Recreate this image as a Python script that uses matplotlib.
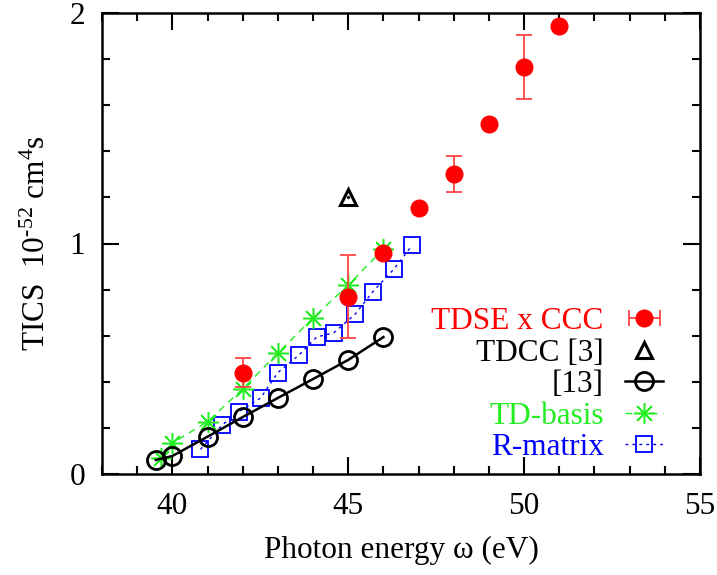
import matplotlib
matplotlib.use("Agg")
import matplotlib.pyplot as plt
import numpy as np
from matplotlib.ticker import MultipleLocator

plt.rcParams['font.family'] = ['Liberation Serif', 'DejaVu Serif']
plt.rcParams['mathtext.fontset'] = 'custom'
plt.rcParams['mathtext.rm'] = 'Liberation Serif'
plt.rcParams['mathtext.default'] = 'regular'
plt.rcParams['font.size'] = 22.5

# TDSE x CCC (filled red circles, some with error bars)
tdse_x = np.array([42, 45, 46, 47, 48, 49, 50, 51])
tdse_y = np.array([0.44, 0.77, 0.96, 1.155, 1.30, 1.52, 1.765, 1.945])
tdse_err = np.array([0.063, 0.18, 0.0, 0.0, 0.078, 0.0, 0.14, 0.0])

# TDCC [3]
tdcc_x = np.array([45])
tdcc_y = np.array([1.20])

# [13]
ref13_x = np.array([39.53, 40, 41, 42, 43, 44, 45, 46])
ref13_y = np.array([0.061, 0.078, 0.162, 0.247, 0.33, 0.412, 0.495, 0.594])

# TD-basis
tdb_x = np.array([39.69, 40, 41, 42, 43, 44, 45, 46])
tdb_y = np.array([0.071, 0.134, 0.227, 0.369, 0.525, 0.677, 0.82, 0.976])

# R-matrix
rm_x = np.array([40.8, 41.42, 41.89, 42.51, 43.0, 43.6, 44.1, 44.59, 45.2, 45.7, 46.3, 46.82])
rm_y = np.array([0.107, 0.213, 0.27, 0.33, 0.44, 0.516, 0.594, 0.613, 0.694, 0.791, 0.889, 0.993])

fig = plt.figure(figsize=(7.17, 5.75), dpi=100)
ax = fig.add_axes([102 / 717, 1 - 474 / 575, 598 / 717, 461 / 575])

red = '#ff0000'
green = '#22ee22'
blue = '#0000ff'

# R-matrix
ax.plot(rm_x, rm_y, color=blue, linestyle=(0, (2, 3)), lw=1.0, marker='s', ms=12,
        mfc='none', mec=blue, mew=1.3, zorder=2)
# TD-basis
ax.plot(tdb_x, tdb_y, color=green, linestyle=(0, (5, 4)), lw=1.0, marker=(8, 2, 0), ms=15,
        mew=1.1, mec=green, zorder=3)
# [13]
ax.plot(ref13_x, ref13_y, color='black', lw=1.8, marker='o', ms=13, mfc='none',
        mec='black', mew=2.0, zorder=3)
# TDCC [3]
ax.plot(tdcc_x, tdcc_y, linestyle='none', marker='^', ms=12, mfc='none', mec='black', mew=2.2, zorder=4)
ax.plot(tdcc_x, tdcc_y, linestyle='none', marker='.', ms=2.5, color='black', zorder=4)

# TDSE x CCC
has_err = tdse_err > 0
ax.errorbar(tdse_x[has_err], tdse_y[has_err], yerr=tdse_err[has_err], fmt='none',
            ecolor='#ff4444', elinewidth=1.3, capsize=6, capthick=1.3, zorder=4)
ax.plot(tdse_x, tdse_y, linestyle='none', marker='o', ms=12, color=red, zorder=5)

# legend proxies
h_tdse = ax.errorbar([np.nan], [np.nan], xerr=[1], fmt='o', ms=12, color=red,
                     ecolor='#ff4444', elinewidth=1.3, capsize=6, capthick=1.3)
h_tdcc, = ax.plot([], [], linestyle='none', marker='^', ms=12, mfc='none', mec='black', mew=2.2)
h_13, = ax.plot([], [], color='black', lw=1.8, marker='o', ms=13, mfc='none', mec='black', mew=2.0)
h_tdb, = ax.plot([], [], color=green, linestyle=(0, (5, 4)), lw=1.0, marker=(8, 2, 0), ms=15,
                 mew=1.1, mec=green)
h_rm, = ax.plot([], [], color=blue, linestyle=(0, (2, 3)), lw=1.0, marker='s', ms=12,
                mfc='none', mec=blue, mew=1.3)

labels = ['TDSE x CCC', 'TDCC [3]', '[13]', 'TD-basis', 'R-matrix']
label_colors = [red, 'black', 'black', green, blue]
leg = ax.legend([h_tdse, h_tdcc, h_13, h_tdb, h_rm], labels, loc='lower right',
                bbox_to_anchor=(0.938, 0.026), frameon=False, markerfirst=False,
                handlelength=1.2, handletextpad=0.7, labelspacing=0.08, borderpad=0,
                borderaxespad=0, fontsize=22.5)
for t, c in zip(leg.get_texts(), label_colors):
    t.set_color(c)

ax.set_xlim(38, 55)
ax.set_ylim(0, 2)
ax.xaxis.set_major_locator(MultipleLocator(5))
ax.xaxis.set_minor_locator(MultipleLocator(1))
ax.yaxis.set_major_locator(MultipleLocator(1))
ax.yaxis.set_minor_locator(MultipleLocator(0.2))
ax.tick_params(which='both', direction='in', top=True, right=True, width=1.5)
ax.tick_params(which='major', length=12)
ax.tick_params(which='minor', length=6)
ax.tick_params(axis='x', which='major', pad=13)
ax.tick_params(axis='y', which='major', pad=12)
for s in ax.spines.values():
    s.set_linewidth(1.8)

ax.set_xlabel('Photon energy ω (eV)', labelpad=11)
ax.set_ylabel(r'TICS  10$^{\text{-}52}$ cm$^{4}$s', labelpad=13)

fig.savefig('out.png', dpi=100)
